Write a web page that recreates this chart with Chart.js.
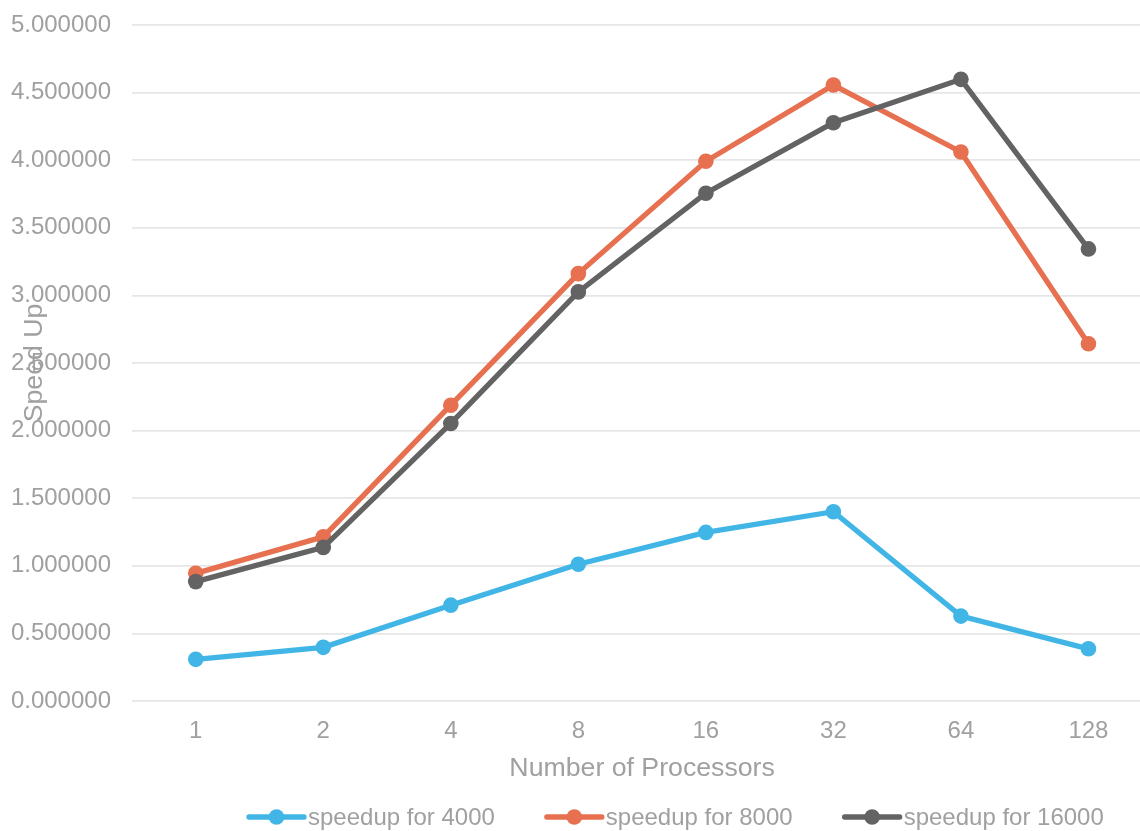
<!DOCTYPE html>
<html>
<head>
<meta charset="utf-8">
<script src="https://cdn.jsdelivr.net/npm/chart.js@4"></script>
<style>
  html, body { margin: 0; padding: 0; background: #ffffff; overflow: hidden; }
  #speedup { display: block; }
</style>
</head>
<body>
<canvas id="speedup" width="1160" height="831"></canvas>
<script>
// Processor counts on the horizontal axis
const processors = ['1', '2', '4', '8', '16', '32', '64', '128'];

// Measured speed-up per problem size
const speedup4000  = [0.308, 0.397, 0.709, 1.012, 1.247, 1.400, 0.628, 0.386];
const speedup8000  = [0.944, 1.214, 2.188, 3.161, 3.992, 4.556, 4.061, 2.642];
const speedup16000 = [0.883, 1.136, 2.053, 3.026, 3.756, 4.277, 4.598, 3.344];

const seriesLabels = ['speedup for 4000', 'speedup for 8000', 'speedup for 16000'];
const seriesColors = ['#41b6e6', '#e6704f', '#636363'];

const FONT = '"Liberation Sans", Arial, Helvetica, sans-serif';
const TEXT = '#a0a0a0';

// Legend: a short line with a dot in its middle, followed by the label
const lineLegend = {
  id: 'lineLegend',
  afterDraw(chart) {
    const ctx = chart.ctx;
    const y = chart.height - 14;
    let x = 249;
    ctx.save();
    ctx.font = '24px ' + FONT;
    ctx.textBaseline = 'middle';
    ctx.textAlign = 'left';
    chart.data.datasets.forEach(ds => {
      ctx.strokeStyle = ds.borderColor;
      ctx.lineWidth = 5.3;
      ctx.lineCap = 'round';
      ctx.beginPath();
      ctx.moveTo(x, y);
      ctx.lineTo(x + 55, y);
      ctx.stroke();
      ctx.fillStyle = ds.borderColor;
      ctx.beginPath();
      ctx.arc(x + 27.5, y, 7.8, 0, Math.PI * 2);
      ctx.fill();
      ctx.fillStyle = TEXT;
      ctx.fillText(ds.label, x + 59, y + 1);
      x += 59 + ctx.measureText(ds.label).width + 52;
    });
    ctx.restore();
  }
};

const makeSeries = (label, data, color, order) => ({
  label,
  data,
  borderColor: color,
  backgroundColor: color,
  pointBackgroundColor: color,
  pointBorderColor: color,
  borderWidth: 5.3,
  pointRadius: 7.8,
  pointHoverRadius: 7.8,
  pointBorderWidth: 0,
  tension: 0,
  fill: false,
  order
});

new Chart(document.getElementById('speedup'), {
  type: 'line',
  data: {
    labels: processors,
    datasets: [
      makeSeries(seriesLabels[0], speedup4000, seriesColors[0], 3),
      makeSeries(seriesLabels[1], speedup8000, seriesColors[1], 2),
      makeSeries(seriesLabels[2], speedup16000, seriesColors[2], 1)
    ]
  },
  options: {
    responsive: false,
    maintainAspectRatio: false,
    devicePixelRatio: 1,
    animation: false,
    layout: { padding: { top: 25, right: 0, bottom: 40, left: 0 } },
    plugins: {
      legend: { display: false },
      tooltip: { enabled: false }
    },
    scales: {
      x: {
        offset: true,
        grid: { display: false },
        border: { display: false },
        ticks: { padding: 8, color: TEXT, font: { family: FONT, size: 24 } },
        title: {
          display: true,
          text: 'Number of Processors',
          color: TEXT,
          font: { family: FONT, size: 26.7 },
          padding: { top: 0, bottom: 6 }
        },
        afterFit(scale) {
          scale.height = 90;
          scale.paddingLeft = 0;
          scale.paddingRight = 0;
        }
      },
      y: {
        min: 0,
        max: 5,
        ticks: {
          stepSize: 0.5,
          padding: 21,
          color: TEXT,
          font: { family: FONT, size: 24 },
          callback: v => Number(v).toFixed(6)
        },
        grid: { color: '#e6e6e6', lineWidth: 1.7, drawTicks: false },
        border: { display: false },
        title: {
          display: true,
          text: 'Speed Up',
          color: TEXT,
          font: { family: FONT, size: 26.7 },
          padding: { top: 19, bottom: 0 }
        },
        afterFit(scale) {
          scale.width = 132;
          scale.paddingTop = 0;
          scale.paddingBottom = 0;
        }
      }
    }
  },
  plugins: [lineLegend]
});
</script>
</body>
</html>
